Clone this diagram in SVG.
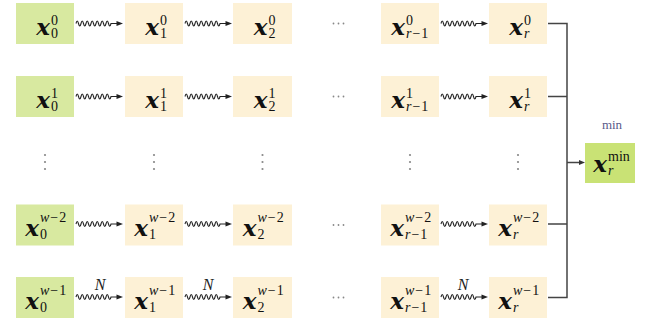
<svg xmlns="http://www.w3.org/2000/svg" xmlns:xlink="http://www.w3.org/1999/xlink" width="649" height="320" viewBox="0 0 649 320">
<style>
.g{fill:#d8e9a0}
.b{fill:#fdf1d6}
.m{fill:#c9e275}
.mx{font-family:"DejaVu Serif",serif;font-weight:bold;font-style:italic;font-size:23px;fill:#111;text-anchor:end}
.sc{font-family:"Liberation Serif",serif;font-size:14px;fill:#111}
.it{font-style:italic}
.lbl{font-family:"Liberation Serif",serif;font-size:16px;font-style:italic;fill:#222;text-anchor:middle}
.minl{font-family:"Liberation Serif",serif;font-size:13px;fill:#5a5a8a;text-anchor:middle}
.ln{stroke:#444;stroke-width:1.5;fill:none}
.dot{fill:#888}
</style>
<defs>
<g id="wave">
<path d="M0,0 q1.25,-5 2.5,0 t2.5,0 t2.5,0 t2.5,0 t2.5,0 t2.5,0 t2.5,0 t2.5,0 t2.5,0 t2.5,0 t2.5,0 t2.5,0 t2.5,0 t2.5,0 l7,0" fill="none" stroke="#222" stroke-width="1.1"/>
<polygon points="40.5,-2.6 47,0 40.5,2.6" fill="#222"/>
</g>
</defs>

<!-- row 0 -->
<g id="n00"><rect class="g" x="16" y="3" width="58" height="41"/><text class="mx" x="50" y="34.5">x</text><text class="sc" x="51" y="24.5">0</text><text class="sc" x="51" y="37.5">0</text></g>
<g id="n01"><rect class="b" x="125" y="3" width="58" height="41"/><text class="mx" x="159" y="34.5">x</text><text class="sc" x="160" y="24.5">0</text><text class="sc" x="160" y="37.5">1</text></g>
<g id="n02"><rect class="b" x="233" y="3" width="59" height="41"/><text class="mx" x="267.5" y="34.5">x</text><text class="sc" x="268.5" y="24.5">0</text><text class="sc" x="268.5" y="37.5">2</text></g>
<g id="n03"><rect class="b" x="381" y="3" width="58" height="41"/><text class="mx" x="405" y="34.5">x</text><text class="sc" x="406" y="24.5">0</text><text class="sc" x="406" y="37.5"><tspan class="it">r</tspan><tspan dx="1">−</tspan><tspan dx="1">1</tspan></text></g>
<g id="n04"><rect class="b" x="489" y="3" width="58" height="41"/><text class="mx" x="523" y="34.5">x</text><text class="sc" x="524" y="24.5">0</text><text class="sc it" x="524" y="37.5">r</text></g>

<!-- row 1 -->
<g id="n10"><rect class="g" x="16" y="76" width="58" height="41"/><text class="mx" x="50" y="107.5">x</text><text class="sc" x="51" y="97.5">1</text><text class="sc" x="51" y="110.5">0</text></g>
<g id="n11"><rect class="b" x="125" y="76" width="58" height="41"/><text class="mx" x="159" y="107.5">x</text><text class="sc" x="160" y="97.5">1</text><text class="sc" x="160" y="110.5">1</text></g>
<g id="n12"><rect class="b" x="233" y="76" width="59" height="41"/><text class="mx" x="267.5" y="107.5">x</text><text class="sc" x="268.5" y="97.5">1</text><text class="sc" x="268.5" y="110.5">2</text></g>
<g id="n13"><rect class="b" x="381" y="76" width="58" height="41"/><text class="mx" x="405" y="107.5">x</text><text class="sc" x="406" y="97.5">1</text><text class="sc" x="406" y="110.5"><tspan class="it">r</tspan><tspan dx="1">−</tspan><tspan dx="1">1</tspan></text></g>
<g id="n14"><rect class="b" x="489" y="76" width="58" height="41"/><text class="mx" x="523" y="107.5">x</text><text class="sc" x="524" y="97.5">1</text><text class="sc it" x="524" y="110.5">r</text></g>

<!-- row w-2 -->
<g id="n40"><rect class="g" x="16" y="204.5" width="58" height="41"/><text class="mx" x="39" y="236">x</text><text class="sc" x="40" y="222"><tspan class="it">w</tspan><tspan dx="1">−</tspan><tspan dx="1">2</tspan></text><text class="sc" x="40" y="239">0</text></g>
<g id="n41"><rect class="b" x="125" y="204.5" width="58" height="41"/><text class="mx" x="148" y="236">x</text><text class="sc" x="149" y="222"><tspan class="it">w</tspan><tspan dx="1">−</tspan><tspan dx="1">2</tspan></text><text class="sc" x="149" y="239">1</text></g>
<g id="n42"><rect class="b" x="233" y="204.5" width="59" height="41"/><text class="mx" x="256.5" y="236">x</text><text class="sc" x="257.5" y="222"><tspan class="it">w</tspan><tspan dx="1">−</tspan><tspan dx="1">2</tspan></text><text class="sc" x="257.5" y="239">2</text></g>
<g id="n43"><rect class="b" x="381" y="204.5" width="58" height="41"/><text class="mx" x="404" y="236">x</text><text class="sc" x="405" y="222"><tspan class="it">w</tspan><tspan dx="1">−</tspan><tspan dx="1">2</tspan></text><text class="sc" x="405" y="239"><tspan class="it">r</tspan><tspan dx="1">−</tspan><tspan dx="1">1</tspan></text></g>
<g id="n44"><rect class="b" x="489" y="204.5" width="58" height="41"/><text class="mx" x="512" y="236">x</text><text class="sc" x="513" y="222"><tspan class="it">w</tspan><tspan dx="1">−</tspan><tspan dx="1">2</tspan></text><text class="sc it" x="513" y="239">r</text></g>

<!-- row w-1 -->
<g id="n50"><rect class="g" x="16" y="277" width="58" height="41"/><text class="mx" x="39" y="308.5">x</text><text class="sc" x="40" y="294.5"><tspan class="it">w</tspan><tspan dx="1">−</tspan><tspan dx="1">1</tspan></text><text class="sc" x="40" y="311.5">0</text></g>
<g id="n51"><rect class="b" x="125" y="277" width="58" height="41"/><text class="mx" x="148" y="308.5">x</text><text class="sc" x="149" y="294.5"><tspan class="it">w</tspan><tspan dx="1">−</tspan><tspan dx="1">1</tspan></text><text class="sc" x="149" y="311.5">1</text></g>
<g id="n52"><rect class="b" x="233" y="277" width="59" height="41"/><text class="mx" x="256.5" y="308.5">x</text><text class="sc" x="257.5" y="294.5"><tspan class="it">w</tspan><tspan dx="1">−</tspan><tspan dx="1">1</tspan></text><text class="sc" x="257.5" y="311.5">2</text></g>
<g id="n53"><rect class="b" x="381" y="277" width="58" height="41"/><text class="mx" x="404" y="308.5">x</text><text class="sc" x="405" y="294.5"><tspan class="it">w</tspan><tspan dx="1">−</tspan><tspan dx="1">1</tspan></text><text class="sc" x="405" y="311.5"><tspan class="it">r</tspan><tspan dx="1">−</tspan><tspan dx="1">1</tspan></text></g>
<g id="n54"><rect class="b" x="489" y="277" width="58" height="41"/><text class="mx" x="512" y="308.5">x</text><text class="sc" x="513" y="294.5"><tspan class="it">w</tspan><tspan dx="1">−</tspan><tspan dx="1">1</tspan></text><text class="sc it" x="513" y="311.5">r</text></g>

<!-- min node -->
<g id="nmin"><rect class="m" x="585" y="143" width="50" height="40"/><text class="mx" x="607" y="172">x</text><text class="sc" x="608" y="161">min</text><text class="sc it" x="608" y="175">r</text></g>
<text class="minl" x="612" y="129">min</text>

<!-- ellipsis dots -->
<g id="dots">
<circle class="dot" cx="333.5" cy="23.5" r="0.9"/><circle class="dot" cx="338.5" cy="23.5" r="0.9"/><circle class="dot" cx="343.5" cy="23.5" r="0.9"/>
<circle class="dot" cx="333.5" cy="96.5" r="0.9"/><circle class="dot" cx="338.5" cy="96.5" r="0.9"/><circle class="dot" cx="343.5" cy="96.5" r="0.9"/>
<circle class="dot" cx="333.5" cy="225" r="0.9"/><circle class="dot" cx="338.5" cy="225" r="0.9"/><circle class="dot" cx="343.5" cy="225" r="0.9"/>
<circle class="dot" cx="333.5" cy="297.5" r="0.9"/><circle class="dot" cx="338.5" cy="297.5" r="0.9"/><circle class="dot" cx="343.5" cy="297.5" r="0.9"/>
<circle class="dot" cx="45" cy="155" r="1.1"/><circle class="dot" cx="45" cy="162" r="1.1"/><circle class="dot" cx="45" cy="169" r="1.1"/>
<circle class="dot" cx="154" cy="155" r="1.1"/><circle class="dot" cx="154" cy="162" r="1.1"/><circle class="dot" cx="154" cy="169" r="1.1"/>
<circle class="dot" cx="262.5" cy="155" r="1.1"/><circle class="dot" cx="262.5" cy="162" r="1.1"/><circle class="dot" cx="262.5" cy="169" r="1.1"/>
<circle class="dot" cx="410" cy="155" r="1.1"/><circle class="dot" cx="410" cy="162" r="1.1"/><circle class="dot" cx="410" cy="169" r="1.1"/>
<circle class="dot" cx="518" cy="155" r="1.1"/><circle class="dot" cx="518" cy="162" r="1.1"/><circle class="dot" cx="518" cy="169" r="1.1"/>
</g>

<!-- connectors -->
<g id="connectors">
<use xlink:href="#wave" href="#wave" x="76" y="23.5"/>
<use xlink:href="#wave" href="#wave" x="185" y="23.5"/>
<use xlink:href="#wave" href="#wave" x="441" y="23.5"/>
<use xlink:href="#wave" href="#wave" x="76" y="96.5"/>
<use xlink:href="#wave" href="#wave" x="185" y="96.5"/>
<use xlink:href="#wave" href="#wave" x="441" y="96.5"/>
<use xlink:href="#wave" href="#wave" x="76" y="224"/>
<use xlink:href="#wave" href="#wave" x="185" y="224"/>
<use xlink:href="#wave" href="#wave" x="441" y="224"/>
<use xlink:href="#wave" href="#wave" x="76" y="297"/>
<use xlink:href="#wave" href="#wave" x="185" y="297"/>
<use xlink:href="#wave" href="#wave" x="441" y="297"/>
<text class="lbl" x="100" y="290">N</text>
<text class="lbl" x="208" y="290">N</text>
<text class="lbl" x="463" y="290">N</text>
<path class="ln" d="M548,23.5 H567 V297.5 H548 M548,96.5 H567 M548,224 H567 M567,162.5 H580"/>
<polygon points="579,160 585,162.5 579,165" fill="#333"/>
</g>
</svg>
